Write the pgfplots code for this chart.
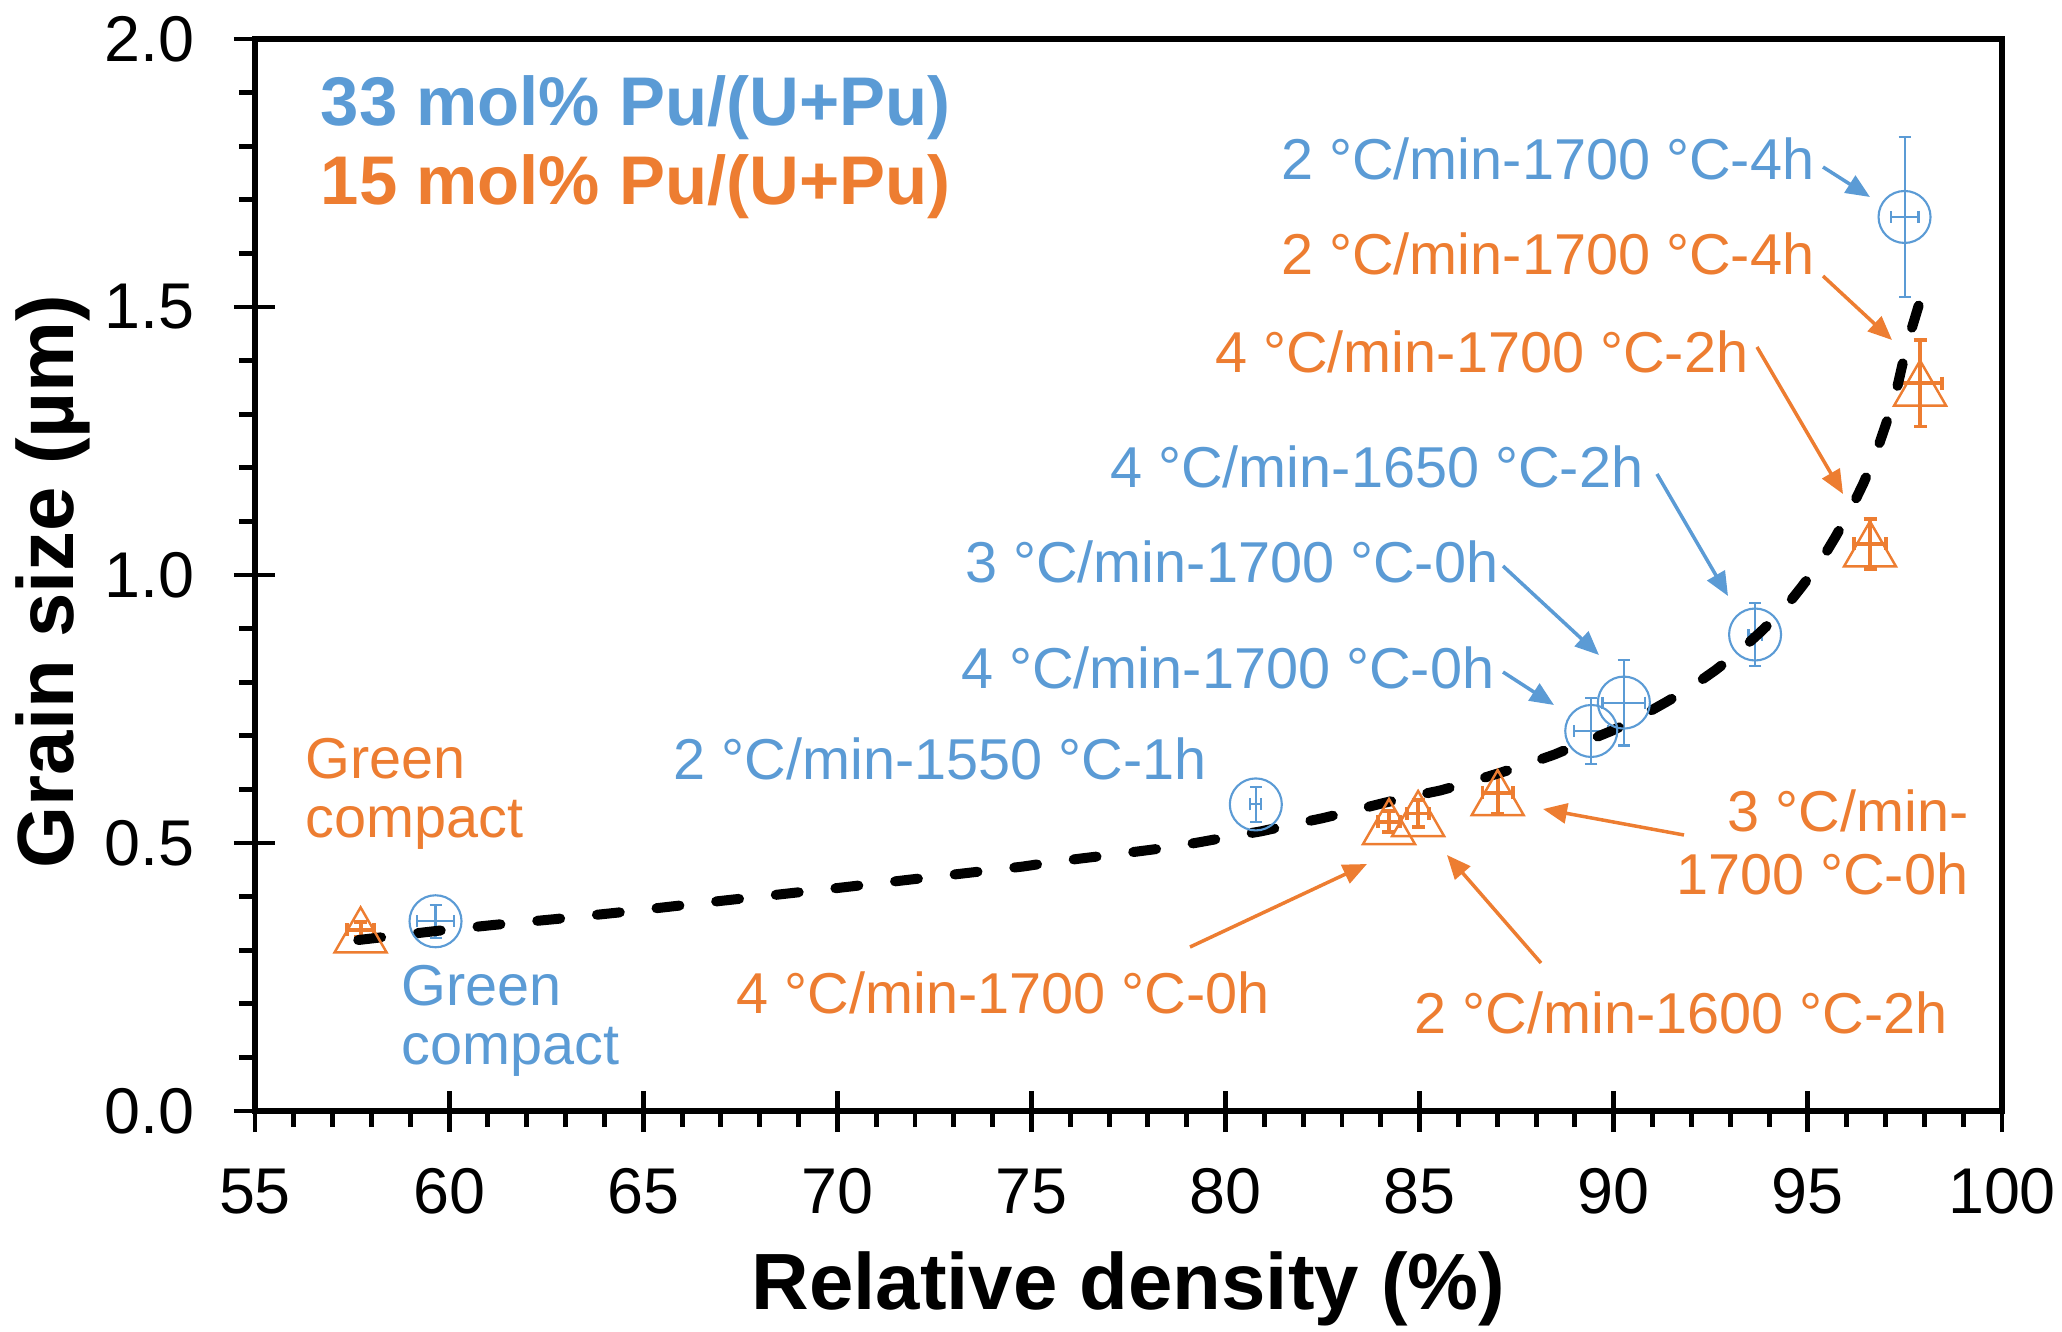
\documentclass[border=0pt]{standalone}
\usepackage{fontspec}
\setmainfont{Liberation Sans}
\usepackage{pgfplots}
\pgfplotsset{compat=1.18}
\usetikzlibrary{arrows.meta}
\definecolor{cblue}{RGB}{91,155,213}
\definecolor{corange}{RGB}{237,125,49}
\newcommand{\ann}{\fontsize{16.4}{18.9}\selectfont}
\newcommand{\leg}{\fontsize{19.6}{23}\selectfont\bfseries}

\pgfplotstableread{
x y ex ey
59.65 0.354 0.47 0.031
80.78 0.572 0.14 0.033
89.42 0.709 0.44 0.061
90.26 0.762 0.55 0.080
93.64 0.889 0.17 0.059
97.49 1.668 0.36 0.149
}\bluedata

\pgfplotstableread{
x y ex ey
57.72 0.338 0.34 0.014
84.21 0.540 0.29 0.020
84.96 0.555 0.29 0.025
87.01 0.594 0.39 0.039
96.60 1.058 0.41 0.047
97.89 1.358 0.57 0.081
}\orangedata

\pgfplotstableread{
x y
57.66 0.319
59.68 0.336
61.13 0.347
62.73 0.358
64.32 0.370
67.00 0.392
70.00 0.416
72.50 0.437
74.77 0.456
75.52 0.464
76.26 0.471
77.07 0.478
77.82 0.485
78.57 0.492
79.37 0.502
80.13 0.512
80.93 0.522
81.68 0.534
82.48 0.546
83.17 0.558
83.98 0.573
84.73 0.586
85.53 0.598
86.22 0.612
87.03 0.630
87.72 0.646
88.47 0.665
89.16 0.686
89.97 0.710
90.66 0.735
91.35 0.763
91.98 0.790
92.61 0.822
93.21 0.856
93.77 0.893
94.37 0.935
94.84 0.978
95.31 1.023
95.70 1.070
96.09 1.120
96.43 1.171
96.73 1.222
96.99 1.277
97.25 1.334
97.42 1.388
97.60 1.442
97.98 1.533
}\fitdata

\begin{document}
\begin{tikzpicture}
\begin{axis}[
  at={(0,0)}, anchor=south west,
  scale only axis, width=174.7mm, height=107.2mm,
  xmin=55, xmax=100, ymin=0, ymax=2,
  xtick={55,60,...,100}, ytick={0,0.5,...,2},
  minor x tick num=4, minor y tick num=4,
  tick pos=left, tick align=outside,
  major tick length=2.1mm, minor tick length=1.6mm,
  tick style={black, line width=1.4pt},
  axis line style={line width=1.7pt},
  /pgf/number format/assume math mode=true,
  yticklabel style={/pgf/number format/fixed, /pgf/number format/fixed zerofill, /pgf/number format/precision=1},
  tick label style={font=\fontsize{18.4}{22}\selectfont, inner sep=0pt},
  xticklabel style={anchor=north, yshift=-3.6mm},
  yticklabel style={anchor=east, xshift=-3.9mm},
  extra x ticks={60,65,...,95},
  extra x tick labels={},
  extra x tick style={tick align=inside, major tick length=2mm},
  extra y ticks={0.5,1,1.5},
  extra y tick labels={},
  extra y tick style={tick align=inside, major tick length=2mm},
  xlabel={Relative density (\%)},
  ylabel={Grain size (µm)},
  label style={font=\fontsize{22.7}{26}\selectfont\bfseries, inner sep=0pt},
  xlabel style={at={(axis description cs:0.5,-0.166)}, anchor=center},
  ylabel style={at={(axis description cs:-0.1156,0.494)}, anchor=center},
  clip=false,
]
\addplot+[only marks, mark=o, color=cblue, mark size=2.6mm,
  mark options={line width=0.6pt, solid, draw=cblue, fill=none},
  error bars/.cd, x dir=both, x explicit, y dir=both, y explicit,
  error bar style={line width=0.6pt, cblue},
  error mark options={rotate=90, mark size=0.6mm, line width=0.6pt, cblue}]
  table[x=x, y=y, x error=ex, y error=ey]{\bluedata};
\addplot+[only marks, mark=triangle, color=corange, mark size=3.0mm,
  mark options={line width=0.7pt, solid, draw=corange, fill=none, yshift=-0.75mm},
  error bars/.cd, x dir=both, x explicit, y dir=both, y explicit,
  error bar style={line width=1.1pt, corange},
  error mark options={rotate=90, mark size=0.65mm, line width=1.1pt, corange}]
  table[x=x, y=y, x error=ex, y error=ey]{\orangedata};
\addplot[black, line width=1mm, line cap=round, dash pattern=on 2.3mm off 3.7mm, mark=none]
  table[x=x, y=y]{\fitdata};
\end{axis}

\begin{scope}[x=0.1mm, y=-0.1mm, shift={(-25.5mm,111.1mm)},
  ar/.style={-{Triangle[length=2.4mm,width=2.0mm]}, line width=1pt},
  every node/.style={inner sep=0pt}]
\path (0,0) rectangle (2062,1331);
% legend-like titles
\node[anchor=west, text=cblue] at (320,108) {\leg 33 mol\% Pu/(U+Pu)};
\node[anchor=west, text=corange] at (320,187) {\leg 15 mol\% Pu/(U+Pu)};
% blue annotations
\node[anchor=east, text=cblue] at (1815,159) {\ann 2 °C/min-1700 °C-4h};
\draw[ar, cblue] (1823,167) -- (1870,197);
\node[anchor=east, text=cblue] at (1644,467) {\ann 4 °C/min-1650 °C-2h};
\draw[ar, cblue] (1657,474) -- (1728,596);
\node[anchor=east, text=cblue] at (1499,562) {\ann 3 °C/min-1700 °C-0h};
\draw[ar, cblue] (1503,566) -- (1599,655);
\node[anchor=east, text=cblue] at (1495,668) {\ann 4 °C/min-1700 °C-0h};
\draw[ar, cblue] (1503,672) -- (1554,705);
\node[anchor=west, text=cblue] at (673,759) {\ann 2 °C/min-1550 °C-1h};
\node[anchor=west, text=cblue] at (401,986) {\ann Green};
\node[anchor=west, text=cblue] at (401,1052) {\ann compact};
% orange annotations
\node[anchor=west, text=corange] at (305,759) {\ann Green};
\node[anchor=west, text=corange] at (305,825) {\ann compact};
\node[anchor=east, text=corange] at (1815,254) {\ann 2 °C/min-1700 °C-4h};
\draw[ar, corange] (1823,276) -- (1892,340);
\node[anchor=east, text=corange] at (1749,352) {\ann 4 °C/min-1700 °C-2h};
\draw[ar, corange] (1757,347) -- (1843,494);
\node[anchor=east, text=corange] at (1969,811) {\ann 3 °C/min-};
\node[anchor=east, text=corange] at (1969,874) {\ann 1700 °C-0h};
\draw[ar, corange] (1684,835) -- (1543,809);
\node[anchor=west, text=corange] at (736,993) {\ann 4 °C/min-1700 °C-0h};
\draw[ar, corange] (1190,947) -- (1367,864);
\node[anchor=west, text=corange] at (1414,1013) {\ann 2 °C/min-1600 °C-2h};
\draw[ar, corange] (1541,963) -- (1447,855);
\end{scope}
\end{tikzpicture}
\end{document}
